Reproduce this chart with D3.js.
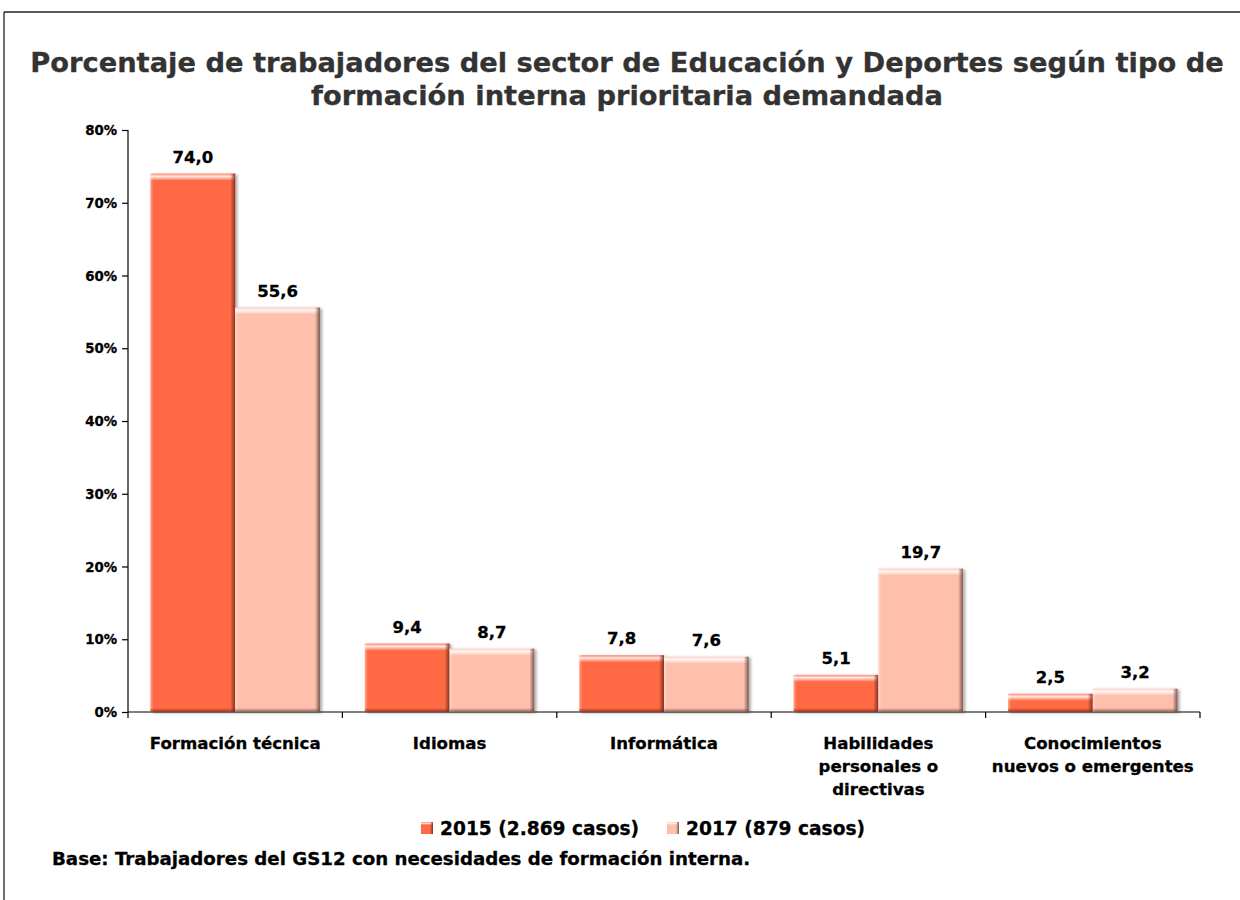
<!DOCTYPE html>
<html><head><meta charset="utf-8">
<script src="https://cdn.jsdelivr.net/npm/d3@7"></script>
<style>
html,body{margin:0;padding:0;background:#fff;}
text{font-family:"DejaVu Sans",Verdana,sans-serif;font-weight:bold;}
</style></head>
<body><svg id="c" width="1240" height="900"></svg>
<script>
const categories = [["Formación técnica"],["Idiomas"],["Informática"],["Habilidades","personales o","directivas"],["Conocimientos","nuevos o emergentes"]];
const seriesNames = ["2015 (2.869 casos)","2017 (879 casos)"];
const values2015 = [74.0, 9.4, 7.8, 5.1, 2.5];
const values2017 = [55.6, 8.7, 7.6, 19.7, 3.2];
const yTicks = [0,10,20,30,40,50,60,70,80];
const title = ["Porcentaje de trabajadores del sector de Educación y Deportes según tipo de","formación interna prioritaria demandada"];
const footnote = "Base: Trabajadores del GS12 con necesidades de formación interna.";

const colors = ["#FF6A45","#FFBFAD"];
const darks = ["#7a2a18","#6a4a44"];
const svg = d3.select("#c");
const defs = svg.append("defs");
const f = defs.append("filter").attr("id","sh").attr("x","-10%").attr("y","-10%").attr("width","130%").attr("height","130%");
f.append("feDropShadow").attr("dx",2).attr("dy",1).attr("stdDeviation",1.5).attr("flood-color","#000").attr("flood-opacity",0.35);
function grad(id,x1,y1,x2,y2,stops){
  const g=defs.append("linearGradient").attr("id",id).attr("x1",x1).attr("y1",y1).attr("x2",x2).attr("y2",y2);
  stops.forEach(s=>g.append("stop").attr("offset",s[0]).attr("stop-color",s[1]).attr("stop-opacity",s[2]));
}
grad("gTop",0,0,0,1,[[0,"#fff",0.2],[0.4,"#fff",0.85],[1,"#fff",0]]);
grad("gLeft",0,0,1,0,[[0,"#fff",0.4],[1,"#fff",0]]);
darks.forEach((d,i)=>{
  grad("gRight"+i,0,0,1,0,[[0,d,0],[1,d,0.9]]);
  grad("gBot"+i,0,0,0,1,[[0,d,0],[1,d,0.8]]);
});

function bold(sel,color){ return sel.attr("fill",color).attr("stroke",color).attr("stroke-width",0.3).attr("paint-order","stroke"); }

// frame
svg.append("line").attr("x1",4).attr("x2",1240).attr("y1",12).attr("y2",12).attr("stroke","#222").attr("stroke-width",1.3);
svg.append("line").attr("x1",4).attr("x2",4).attr("y1",12).attr("y2",900).attr("stroke","#222").attr("stroke-width",1.3);

// title
const tt = bold(svg.append("text").attr("text-anchor","middle").attr("font-size",27.3),"#333");
title.forEach((t,i)=>tt.append("tspan").attr("x",627).attr("y",72+i*33).text(t));

const x0 = d3.scaleBand().domain(d3.range(categories.length)).range([128,1200]).paddingInner(0).paddingOuter(0);
const x1 = d3.scaleBand().domain([0,1]).range([0,x0.bandwidth()]).paddingOuter(0.265).paddingInner(0);
const y = d3.scaleLinear().domain([0,80]).range([712,130]);

// y axis
const ya = svg.append("g").attr("transform","translate(128,0)")
  .call(d3.axisLeft(y).tickValues(yTicks).tickSize(6).tickFormat(d=>d+"%"));
bold(ya.selectAll("text").attr("font-size",13.3).attr("x",-11).attr("dy","0.35em"),"#000");
ya.selectAll("line,path").attr("stroke","#000").attr("stroke-width",1.2);
ya.select(".domain").attr("d","M0,130V712");

// x axis
const boundaries = d3.range(categories.length+1).map(i=> i<categories.length ? x0(i) : x0(i-1)+x0.bandwidth());
svg.append("line").attr("x1",128).attr("x2",1200).attr("y1",712).attr("y2",712).attr("stroke","#000").attr("stroke-width",1.2);
svg.selectAll(".xt").data(boundaries).join("line").attr("x1",d=>d).attr("x2",d=>d).attr("y1",712).attr("y2",718).attr("stroke","#000").attr("stroke-width",1.2);

const series = [values2015, values2017];
series.forEach((vals,s)=>{
  vals.forEach((v,i)=>{
    const bx = x0(i)+x1(s), bw = x1.bandwidth(), by = y(v), bh = y(0)-y(v);
    const g = svg.append("g");
    g.append("rect").attr("x",bx).attr("y",by).attr("width",bw).attr("height",bh).attr("fill",colors[s]).attr("filter","url(#sh)");
    const e = Math.min(7,bh/2);
    g.append("rect").attr("x",bx).attr("y",by).attr("width",bw).attr("height",e).attr("fill","url(#gTop)");
    g.append("rect").attr("x",bx).attr("y",by).attr("width",3).attr("height",bh).attr("fill","url(#gLeft)");
    g.append("rect").attr("x",bx+bw-5).attr("y",by).attr("width",5).attr("height",bh).attr("fill","url(#gRight"+s+")");
    g.append("rect").attr("x",bx).attr("y",by+bh-Math.min(4,bh/3)).attr("width",bw).attr("height",Math.min(4,bh/3)).attr("fill","url(#gBot"+s+")");
    bold(svg.append("text").attr("x",bx+bw/2).attr("y",by-11).attr("text-anchor","middle").attr("font-size",16.5),"#000")
      .text(d3.format(".1f")(v).replace(".",","));
  });
});

// category labels
categories.forEach((lines,i)=>{
  const t = bold(svg.append("text").attr("text-anchor","middle").attr("font-size",16.6),"#000");
  lines.forEach((l,j)=>t.append("tspan").attr("x",x0(i)+x0.bandwidth()/2).attr("y",749+j*23).text(l));
});

// legend
const legX = [421,667];
seriesNames.forEach((n,s)=>{
  const lx = legX[s];
  svg.append("rect").attr("x",lx).attr("y",822).attr("width",12).attr("height",12).attr("fill",colors[s]);
  svg.append("rect").attr("x",lx).attr("y",822).attr("width",12).attr("height",3).attr("fill","url(#gTop)");
  svg.append("rect").attr("x",lx+9).attr("y",822).attr("width",3).attr("height",12).attr("fill","url(#gRight"+s+")");
  bold(svg.append("text").attr("x",lx+19).attr("y",835).attr("font-size",18.6),"#000").text(n);
});

bold(svg.append("text").attr("x",52).attr("y",865).attr("font-size",18.2),"#000").text(footnote);
</script></body></html>
